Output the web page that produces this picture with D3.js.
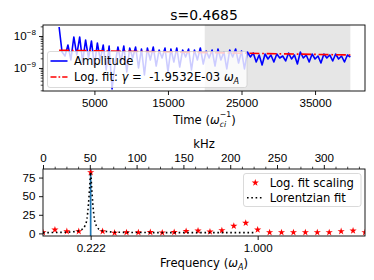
<!DOCTYPE html>
<html>
<head>
<meta charset="utf-8">
<script src="https://cdn.jsdelivr.net/npm/d3@7"></script>
<style>
  body { margin: 0; background: #fff; }
  svg { font-family: "DejaVu Sans", sans-serif; }
</style>
</head>
<body>
<div id="chart"></div>
<script>
// ---- top panel data (time trace) ----
const timeVals = [200, 600, 1000, 1400, 1800, 2200, 2600, 3000, 3400, 3800,
  4200, 4600, 5000, 5400, 5800, 6200, 6600, 7000, 7400, 7800,
  8200, 8600, 9000, 9400, 9800, 10200, 10600, 11000, 11400, 11800,
  12200, 12600, 13000, 13400, 13800, 14200, 14600, 15000, 15400, 15800,
  16200, 16600, 17000, 17400, 17800, 18200, 18600, 19000, 19400, 19800,
  20200, 20600, 21000, 21400, 21800, 22200, 22600, 23000, 23400, 23800,
  24200, 24600, 25000, 25400, 25800, 26200, 26600, 27000, 27400, 27800,
  28200, 28600, 29000, 29400, 29800, 30200, 30600, 31000, 31400, 31800,
  32200, 32600, 33000, 33400, 33800, 34200, 34600, 35000, 35400, 35800,
  36200, 36600, 37000, 37400, 37800, 38200, 38600, 39000, 39400, 39800];
const amplitude = [1.91e-8, 3.16e-9, 2.37e-9, 5.24e-9, 1.78e-9, 9.31e-9, 2.55e-9, 9.31e-9, 1.54e-9, 7.5e-9,
  2.05e-9, 6.98e-9, 1.15e-9, 6.04e-9, 1.78e-9, 5.24e-9, 8.66e-10, 4.87e-9, 2.2e-10, 1.33e-9,
  4.53e-9, 1.54e-9, 4.87e-9, 7.5e-10, 4.22e-9, 2.05e-9, 4.53e-9, 1.0e-9, 3.93e-9, 6.04e-10,
  4.22e-9, 1.78e-9, 4.53e-9, 1.15e-9, 3.65e-9, 2.05e-9, 4.22e-9, 7.5e-10, 3.93e-9, 1.54e-9,
  4.22e-9, 1.07e-9, 3.65e-9, 2.21e-9, 3.93e-9, 8.66e-10, 3.65e-9, 1.78e-9, 4.22e-9, 1.33e-9,
  3.40e-9, 2.05e-9, 3.65e-9, 1.15e-9, 3.93e-9, 1.78e-9, 3.16e-9, 9.31e-10, 3.65e-9, 2.21e-9,
  3.93e-9, 1.43e-9, 3.40e-9, 9.31e-10, 3.16e-9, 2.21e-9, 2.94e-9, 1.54e-9, 2.55e-9, 1.24e-9,
  2.74e-9, 1.91e-9, 2.55e-9, 1.54e-9, 2.74e-9, 2.05e-9, 2.37e-9, 1.66e-9, 2.94e-9, 1.91e-9,
  2.55e-9, 1.33e-9, 3.16e-9, 2.05e-9, 2.55e-9, 1.54e-9, 2.74e-9, 1.91e-9, 2.37e-9, 1.43e-9,
  2.74e-9, 2.05e-9, 2.55e-9, 1.66e-9, 2.74e-9, 1.91e-9, 2.37e-9, 1.54e-9, 2.55e-9, 2.21e-9];
const fitTime = [200, 39800];
const fitAmp = [3.6e-9, 2.55e-9];
const spanTime = [20000, 39800];
const timeTicks = [5000, 15000, 25000, 35000];
const ampTicks = [1e-9, 1e-8];

// ---- bottom panel data (spectrum) ----
const freqVals = [0, 0.0556, 0.1111, 0.1667, 0.2222, 0.2778, 0.3333, 0.3889, 0.4444, 0.5,
  0.5556, 0.6111, 0.6667, 0.7222, 0.7778, 0.8333, 0.8889, 0.9444, 1.0, 1.0556,
  1.1111, 1.1667, 1.2222, 1.2778, 1.3333, 1.3889, 1.4444, 1.5];
const fitScaling = [1.3, 4.9, 2.7, 2.7, 82, 2.7, 0.8, 1.3, 1.3, 1.5,
  1.0, 1.6, 3.0, 3.6, 2.3, 4.0, 10, 14, 4.9, 1.3,
  1.3, 1.3, 1.3, 1.3, 1.3, 2.7, 3.6, 1.3];
const lorFreq = [0, 0.1, 0.15, 0.18, 0.195, 0.205, 0.212, 0.218, 0.222, 0.226, 0.232, 0.239, 0.249, 0.264, 0.294, 0.35, 0.5, 0.99];
const lorVal = [1.0, 1.5, 2.5, 5, 10, 20, 40, 65, 82, 65, 40, 20, 10, 5, 2.5, 1.5, 1.1, 1.0];
const peakFreq = 0.222;
const freqTicks = [0.222, 1.0];
const scaleTicks = [0, 25, 50, 75];
const khzTicks = [0, 50, 100, 150, 200, 250, 300];

const W = 374, H = 280;
const FS = 11.6;

const svg = d3.select("#chart").append("svg")
  .attr("width", W).attr("height", H);

function styleAxis(g) {
  g.select(".domain").remove();
  g.selectAll(".tick line").attr("stroke", "#000").attr("stroke-width", 0.9);
  g.selectAll(".tick text").attr("fill", "#000").style("font-size", FS + "px");
}

// ================= top panel =================
const p1 = { left: 43, right: 365, top: 25, bottom: 91 };
const x1 = d3.scaleLinear().domain([-1990, 41790]).range([p1.left, p1.right]);
const y1 = d3.scaleLog().domain([Math.pow(10, -9.72), Math.pow(10, -7.656)]).range([p1.bottom, p1.top]);

svg.append("clipPath").attr("id", "clip1").append("rect")
  .attr("x", p1.left).attr("y", p1.top)
  .attr("width", p1.right - p1.left).attr("height", p1.bottom - p1.top);

const g1 = svg.append("g").attr("clip-path", "url(#clip1)");

// shaded fit window
g1.append("rect")
  .attr("x", x1(spanTime[0])).attr("y", p1.top)
  .attr("width", x1(spanTime[1]) - x1(spanTime[0]))
  .attr("height", p1.bottom - p1.top)
  .attr("fill", "#e6e6e6");

const ampLine = d3.line().x((d, i) => x1(timeVals[i])).y(d => y1(d));
g1.append("path").datum(amplitude)
  .attr("d", ampLine)
  .attr("fill", "none").attr("stroke", "#0000ff").attr("stroke-width", 1.6)
  .attr("stroke-linejoin", "round");

const fitLine = d3.line().x((d, i) => x1(fitTime[i])).y(d => y1(d));
g1.append("path").datum(fitAmp)
  .attr("d", fitLine)
  .attr("fill", "none").attr("stroke", "#ff0000").attr("stroke-width", 1.6)
  .attr("stroke-dasharray", "10,2.8,1.7,2.8");

// axes
const ax1 = svg.append("g").attr("transform", `translate(0,${p1.bottom})`)
  .call(d3.axisBottom(x1).tickValues(timeTicks).tickFormat(d3.format("d")).tickSize(4).tickPadding(3.5));
styleAxis(ax1);

const minorAmp = y1.ticks().filter(v => ampTicks.indexOf(v) < 0);
const ay1m = svg.append("g").attr("transform", `translate(${p1.left},0)`)
  .call(d3.axisLeft(y1).tickValues(minorAmp).tickSize(2.3).tickFormat(""));
styleAxis(ay1m);
ay1m.selectAll(".tick line").attr("stroke-width", 0.7);

const ay1 = svg.append("g").attr("transform", `translate(${p1.left},0)`)
  .call(d3.axisLeft(y1).tickValues(ampTicks).tickSize(4).tickPadding(3));
styleAxis(ay1);
ay1.selectAll(".tick text").each(function (d) {
  const t = d3.select(this).text("").attr("dy", "0.32em");
  t.append("tspan").text("10");
  t.append("tspan").attr("dy", -5).style("font-size", "8.1px")
    .text("\u2212" + Math.round(-Math.log10(d)));
});

svg.append("rect")
  .attr("x", p1.left).attr("y", p1.top)
  .attr("width", p1.right - p1.left).attr("height", p1.bottom - p1.top)
  .attr("fill", "none").attr("stroke", "#000").attr("stroke-width", 0.9);

// title
svg.append("text")
  .attr("x", (p1.left + p1.right) / 2).attr("y", 20)
  .attr("text-anchor", "middle")
  .style("font-size", "13.9px")
  .text("s=0.4685");

// x label with stacked sub/superscript
const tl = svg.append("text").attr("x", 0).attr("y", 123.5).style("font-size", FS + "px");
tl.append("tspan").text("Time (");
tl.append("tspan").style("font-style", "italic").text("\u03c9");
const tSub = tl.append("tspan").style("font-style", "italic").style("font-size", "7.8px")
  .attr("dy", 3).text("ci");
const tSup = tl.append("tspan").style("font-size", "7.8px").attr("dy", -9.6).text("\u22121");
tl.append("tspan").attr("dy", 6.6).text(")");
const subW = tSub.node().getComputedTextLength();
tSup.attr("dx", -subW);
const bb1 = tl.node().getBBox();
tl.attr("x", (p1.left + p1.right) / 2 - bb1.width / 2 - bb1.x);

// legend (top)
const lg1 = svg.append("g");
lg1.append("rect")
  .attr("x", 47.5).attr("y", 51.5).attr("width", 199.5).attr("height", 36)
  .attr("rx", 2.5)
  .attr("fill", "#fff").attr("fill-opacity", 0.8)
  .attr("stroke", "#ccc").attr("stroke-opacity", 0.8).attr("stroke-width", 0.9);
lg1.append("line")
  .attr("x1", 50.5).attr("x2", 67.5).attr("y1", 61).attr("y2", 61)
  .attr("stroke", "#0000ff").attr("stroke-width", 1.6);
lg1.append("text").attr("x", 74).attr("y", 65.2).style("font-size", FS + "px").text("Amplitude");
lg1.append("line")
  .attr("x1", 50.5).attr("x2", 67.5).attr("y1", 77).attr("y2", 77)
  .attr("stroke", "#ff0000").attr("stroke-width", 1.6)
  .attr("stroke-dasharray", "6,2,1.7,2");
const lt = lg1.append("text").attr("x", 74).attr("y", 81.2)
  .style("font-size", FS + "px").style("white-space", "pre");
lt.append("tspan").text("Log. fit: ");
lt.append("tspan").style("font-style", "italic").text("\u03b3");
lt.append("tspan").text(" =  -1.9532E-03 ");
lt.append("tspan").style("font-style", "italic").text("\u03c9");
lt.append("tspan").style("font-style", "italic").style("font-size", "8.1px").attr("dy", 3).text("A");

// ================= bottom panel =================
const p2 = { left: 43, right: 365, top: 169, bottom: 236 };
const x2 = d3.scaleLinear().domain([0, 1.5]).range([p2.left, p2.right]);
const k2 = d3.scaleLinear().domain([0, 344]).range([p2.left, p2.right]);
const y2 = d3.scaleLinear().domain([-3.5, 86.5]).range([p2.bottom, p2.top]);

svg.append("clipPath").attr("id", "clip2").append("rect")
  .attr("x", p2.left).attr("y", p2.top)
  .attr("width", p2.right - p2.left).attr("height", p2.bottom - p2.top);

const g2 = svg.append("g").attr("clip-path", "url(#clip2)");

g2.append("line")
  .attr("x1", x2(peakFreq)).attr("x2", x2(peakFreq))
  .attr("y1", p2.top).attr("y2", p2.bottom)
  .attr("stroke", "#1f77b4").attr("stroke-width", 1.7);

const star = d3.symbol().type(d3.symbolStar).size(16);
g2.selectAll(".star")
  .data(fitScaling)
  .join("path")
  .attr("class", "star")
  .attr("transform", (d, i) => `translate(${x2(freqVals[i])},${y2(d)})`)
  .attr("d", star)
  .attr("fill", "#ff0000");

const lorLine = d3.line().x((d, i) => x2(lorFreq[i])).y(d => y2(d)).curve(d3.curveMonotoneX);
g2.append("path").datum(lorVal)
  .attr("d", lorLine)
  .attr("fill", "none").attr("stroke", "#000").attr("stroke-width", 1.6)
  .attr("stroke-dasharray", "1.6,2.7");

// axes
const ax2 = svg.append("g").attr("transform", `translate(0,${p2.bottom})`)
  .call(d3.axisBottom(x2).tickValues(freqTicks).tickFormat(d3.format(".3f")).tickSize(4).tickPadding(3.5));
styleAxis(ax2);

const ay2 = svg.append("g").attr("transform", `translate(${p2.left},0)`)
  .call(d3.axisLeft(y2).tickValues(scaleTicks).tickSize(4).tickPadding(3.5));
styleAxis(ay2);

const kMinor = d3.range(12.5, 344, 12.5).filter(v => v % 50 !== 0);
const at2m = svg.append("g").attr("transform", `translate(0,${p2.top})`)
  .call(d3.axisTop(k2).tickValues(kMinor).tickSize(2.3).tickFormat(""));
styleAxis(at2m);
at2m.selectAll(".tick line").attr("stroke-width", 0.7);

const at2 = svg.append("g").attr("transform", `translate(0,${p2.top})`)
  .call(d3.axisTop(k2).tickValues(khzTicks).tickSize(4).tickPadding(3.5));
styleAxis(at2);

svg.append("rect")
  .attr("x", p2.left).attr("y", p2.top)
  .attr("width", p2.right - p2.left).attr("height", p2.bottom - p2.top)
  .attr("fill", "none").attr("stroke", "#000").attr("stroke-width", 0.9);

// axis labels
svg.append("text")
  .attr("x", (p2.left + p2.right) / 2).attr("y", 148.3)
  .attr("text-anchor", "middle").style("font-size", FS + "px")
  .text("kHz");

const fl = svg.append("text").attr("x", 0).attr("y", 267).style("font-size", FS + "px");
fl.append("tspan").text("Frequency (");
fl.append("tspan").style("font-style", "italic").text("\u03c9");
fl.append("tspan").style("font-style", "italic").style("font-size", "8.1px").attr("dy", 3).text("A");
fl.append("tspan").attr("dy", -3).text(")");
const bb2 = fl.node().getBBox();
fl.attr("x", (p2.left + p2.right) / 2 - bb2.width / 2 - bb2.x);

// legend (bottom)
const lg2 = svg.append("g");
lg2.append("rect")
  .attr("x", 243.5).attr("y", 173.5).attr("width", 117.5).attr("height", 33)
  .attr("rx", 2.5)
  .attr("fill", "#fff").attr("fill-opacity", 0.8)
  .attr("stroke", "#ccc").attr("stroke-opacity", 0.8).attr("stroke-width", 0.9);
lg2.append("path")
  .attr("transform", "translate(255.3,182.7)")
  .attr("d", star)
  .attr("fill", "#ff0000");
lg2.append("text").attr("x", 269.7).attr("y", 186.7).style("font-size", FS + "px").text("Log. fit scaling");
lg2.append("line")
  .attr("x1", 247).attr("x2", 264).attr("y1", 197.7).attr("y2", 197.7)
  .attr("stroke", "#000").attr("stroke-width", 1.6)
  .attr("stroke-dasharray", "1.6,2.7");
lg2.append("text").attr("x", 269.7).attr("y", 201.7).style("font-size", FS + "px").text("Lorentzian fit");
</script>
</body>
</html>
